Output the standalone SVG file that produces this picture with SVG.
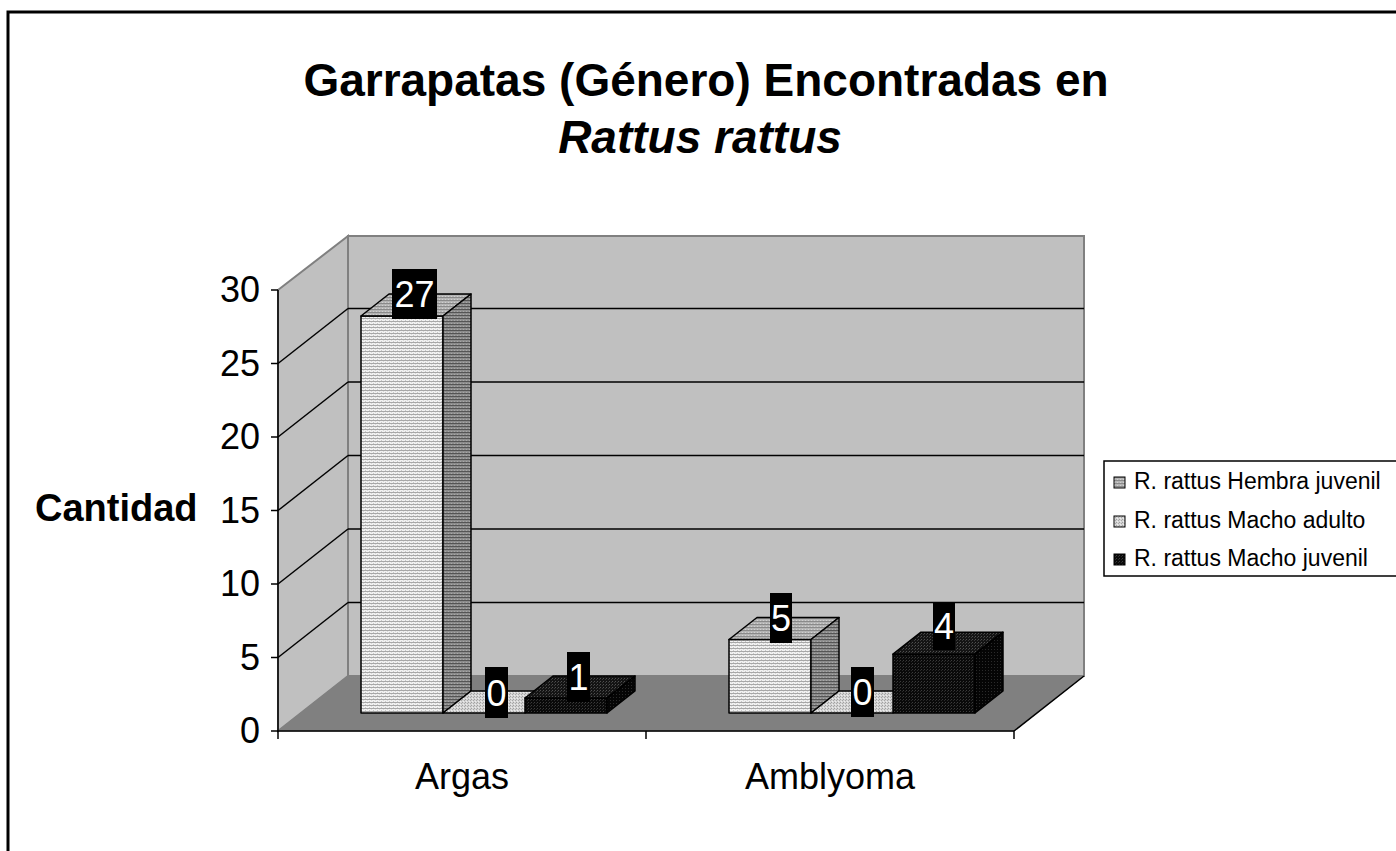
<svg xmlns="http://www.w3.org/2000/svg" width="1396" height="851" viewBox="0 0 1396 851">
<defs>
<style>
.t{font-family:"Liberation Sans",Arial,sans-serif;fill:#000}
.ax{font-size:36px}
.lab{font-size:36px;fill:#fff;text-anchor:middle}
.leg{font-size:23px}
.grid{stroke:#000;stroke-width:1.5;fill:none}
.wall{fill:#c0c0c0;stroke:#808080;stroke-width:2}
.edge{stroke:#000;stroke-width:1.5}
.box{fill:#000}
</style>
<pattern id="hjFront" width="4" height="3" patternUnits="userSpaceOnUse">
<rect width="4" height="3" fill="#f2f2f2"/>
<rect width="4" height="1" fill="#a8a8a8"/>
<rect x="1" y="2" width="1" height="1" fill="#c8c8c8"/>
<rect x="3" y="1" width="1" height="1" fill="#d8d8d8"/>
</pattern>
<pattern id="hjTop" width="3" height="3" patternUnits="userSpaceOnUse">
<rect width="3" height="3" fill="#b4b4b4"/>
<rect width="3" height="1" fill="#8a8a8a"/>
<rect x="1" y="2" width="1" height="1" fill="#d0d0d0"/>
</pattern>
<pattern id="hjSide" width="3" height="3" patternUnits="userSpaceOnUse">
<rect width="3" height="3" fill="#8c8c8c"/>
<rect width="3" height="1" fill="#555"/>
<rect x="1" y="2" width="1" height="1" fill="#a8a8a8"/>
</pattern>
<pattern id="maTop" width="3" height="3" patternUnits="userSpaceOnUse">
<rect width="3" height="3" fill="#d4d4d4"/>
<rect x="0" y="0" width="1" height="1" fill="#a0a0a0"/>
<rect x="2" y="1" width="1" height="1" fill="#a8a8a8"/>
<rect x="1" y="2" width="1" height="1" fill="#ececec"/>
</pattern>
<pattern id="mjFront" width="3" height="3" patternUnits="userSpaceOnUse">
<rect width="3" height="3" fill="#0a0a0a"/>
<rect x="0" y="0" width="1" height="1" fill="#3c3c3c"/>
<rect x="2" y="1" width="1" height="1" fill="#2a2a2a"/>
</pattern>
<pattern id="mjTop" width="3" height="3" patternUnits="userSpaceOnUse">
<rect width="3" height="3" fill="#141414"/>
<rect x="0" y="0" width="1" height="1" fill="#505050"/>
<rect x="2" y="1" width="1" height="1" fill="#3a3a3a"/>
</pattern>
<pattern id="mjSide" width="3" height="3" patternUnits="userSpaceOnUse">
<rect width="3" height="3" fill="#050505"/>
<rect x="1" y="1" width="1" height="1" fill="#2a2a2a"/>
</pattern>
</defs>

<rect x="8" y="12" width="1400" height="860" fill="#fff" stroke="#000" stroke-width="3"/>

<g id="title" text-anchor="middle">
<text class="t" x="706" y="96" font-size="46" font-weight="bold">Garrapatas (Género) Encontradas en</text>
<text class="t" x="700" y="153" font-size="46" font-weight="bold" font-style="italic">Rattus rattus</text>
</g>

<g id="plot-area">
<polygon class="wall" points="348,236 1084,236 1084,676 348,676"/>
<polygon class="wall" points="278,290 348,236 348,676 278,731"/>
<polygon points="278,731 1014,731 1084,676 348,676" fill="#808080" stroke="#808080" stroke-width="1"/>
<line x1="1014" y1="731" x2="1084" y2="676" class="edge"/>
<g class="grid">
<line x1="348" y1="308.5" x2="1084" y2="308.5"/>
<line x1="348" y1="382" x2="1084" y2="382"/>
<line x1="348" y1="455.5" x2="1084" y2="455.5"/>
<line x1="348" y1="529" x2="1084" y2="529"/>
<line x1="348" y1="602.5" x2="1084" y2="602.5"/>
<line x1="278" y1="363.5" x2="348" y2="308.5"/>
<line x1="278" y1="437" x2="348" y2="382"/>
<line x1="278" y1="510.5" x2="348" y2="455.5"/>
<line x1="278" y1="584" x2="348" y2="529"/>
<line x1="278" y1="657.5" x2="348" y2="602.5"/>
</g>
</g>

<g id="axes">
<line x1="278" y1="290" x2="278" y2="732" class="edge"/>
<line x1="277" y1="731" x2="1014" y2="731" class="edge"/>
<g class="edge">
<line x1="271" y1="290" x2="278" y2="290"/>
<line x1="271" y1="363.5" x2="278" y2="363.5"/>
<line x1="271" y1="437" x2="278" y2="437"/>
<line x1="271" y1="510.5" x2="278" y2="510.5"/>
<line x1="271" y1="584" x2="278" y2="584"/>
<line x1="271" y1="657.5" x2="278" y2="657.5"/>
<line x1="271" y1="731" x2="278" y2="731"/>
<line x1="278" y1="731" x2="278" y2="739"/>
<line x1="646" y1="731" x2="646" y2="739"/>
<line x1="1014" y1="731" x2="1014" y2="739"/>
</g>
<g class="t ax" text-anchor="end">
<text x="260" y="302">30</text>
<text x="260" y="375.5">25</text>
<text x="260" y="449">20</text>
<text x="260" y="522.5">15</text>
<text x="260" y="596">10</text>
<text x="260" y="669.5">5</text>
<text x="260" y="743">0</text>
</g>
<text class="t" x="35" y="521" font-size="38" font-weight="bold">Cantidad</text>
<g class="t ax" text-anchor="middle">
<text x="462" y="789">Argas</text>
<text x="830" y="789">Amblyoma</text>
</g>
</g>

<g id="bars-argas" stroke="#000" stroke-width="1.5" stroke-linejoin="round">
<rect x="361" y="316" width="82" height="397" fill="url(#hjFront)"/>
<polygon points="361,316 443,316 471,294 389,294" fill="url(#hjTop)"/>
<polygon points="443,316 471,294 471,691 443,713" fill="url(#hjSide)"/>
<polygon points="443,713 525,713 553,691 471,691" fill="url(#maTop)"/>
<rect x="525" y="698" width="82" height="15" fill="url(#mjFront)"/>
<polygon points="525,698 607,698 635,676 553,676" fill="url(#mjTop)"/>
<polygon points="607,698 635,676 635,691 607,713" fill="url(#mjSide)"/>
</g>

<g id="bars-amblyoma" stroke="#000" stroke-width="1.5" stroke-linejoin="round">
<rect x="729" y="639.5" width="82" height="73.5" fill="url(#hjFront)"/>
<polygon points="729,639.5 811,639.5 839,617.5 757,617.5" fill="url(#hjTop)"/>
<polygon points="811,639.5 839,617.5 839,691 811,713" fill="url(#hjSide)"/>
<polygon points="811,713 893,713 921,691 839,691" fill="url(#maTop)"/>
<rect x="893" y="654.2" width="82" height="58.8" fill="url(#mjFront)"/>
<polygon points="893,654.2 975,654.2 1003,632.2 921,632.2" fill="url(#mjTop)"/>
<polygon points="975,654.2 1003,632.2 1003,691 975,713" fill="url(#mjSide)"/>
</g>

<g id="data-labels">
<rect class="box" x="392" y="269" width="45" height="50"/>
<text class="t lab" x="414.5" y="307">27</text>
<rect class="box" x="485" y="667" width="23" height="51"/>
<text class="t lab" x="496.5" y="706">0</text>
<rect class="box" x="567" y="652" width="23" height="50"/>
<text class="t lab" x="578.5" y="690">1</text>
<rect class="box" x="770" y="593" width="22" height="50"/>
<text class="t lab" x="781" y="631">5</text>
<rect class="box" x="851" y="667" width="23" height="50"/>
<text class="t lab" x="862.5" y="705">0</text>
<rect class="box" x="933" y="603" width="22" height="47"/>
<text class="t lab" x="944" y="639">4</text>
</g>

<g id="legend">
<rect x="1104" y="461" width="300" height="115" fill="#fff" stroke="#000" stroke-width="1.5"/>
<rect x="1114" y="477" width="11" height="11" fill="url(#hjTop)" stroke="#000" stroke-width="1"/>
<text class="t leg" x="1134" y="489">R. rattus Hembra juvenil</text>
<rect x="1114" y="516" width="11" height="11" fill="url(#maTop)" stroke="#000" stroke-width="1"/>
<text class="t leg" x="1134" y="528">R. rattus Macho adulto</text>
<rect x="1114" y="554" width="11" height="11" fill="url(#mjFront)" stroke="#000" stroke-width="1"/>
<text class="t leg" x="1134" y="566">R. rattus Macho juvenil</text>
</g>
</svg>
